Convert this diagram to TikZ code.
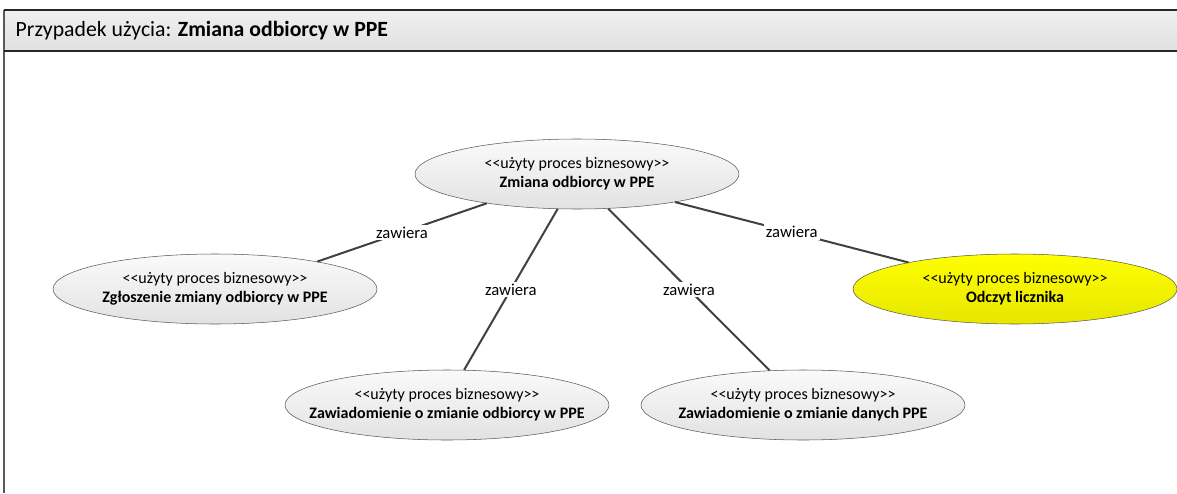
\documentclass[tikz,border=0pt]{standalone}
\usepackage{fontspec}
\setmainfont{Carlito}
\usetikzlibrary{shapes.geometric}

\definecolor{linia}{HTML}{404040}
\definecolor{obrys}{HTML}{595959}
\definecolor{jasny}{HTML}{FAFAFA}
\definecolor{ciemny}{HTML}{E2E2E2}
\definecolor{zolty}{HTML}{FFFF00}
\definecolor{zoltyc}{HTML}{E6E600}

\newcommand{\stereotyp}{<{}<użyty proces biznesowy>{}>}

\begin{document}
\begin{tikzpicture}[x=0.75pt, y=-0.75pt,
    proces/.style={draw=obrys, shape=ellipse, minimum width=243pt, minimum height=52.5pt, inner xsep=-20pt, inner ysep=0pt, align=center, top color=jasny, bottom color=ciemny, font=\fontsize{12}{14.5}\selectfont},
    wybrany/.style={proces, top color=zolty, bottom color=zoltyc},
    lbl/.style={fill=white, inner sep=1.5pt, font=\fontsize{12.5}{14}\selectfont},
    assoc/.style={draw=linia, line width=1.5pt}]

    \useasboundingbox (0,0) rectangle (1177,493);

    % Frame and title bar
    \shade[top color=gray!12, bottom color=gray!24] (4,10) rectangle (1177,51);
    \draw[line width=1.5pt, draw=gray!70!black] (4,10) -- (4,493);
    \draw[line width=1.5pt, draw=black!85] (4,10) -- (1177,10) (4,51) -- (1177,51);
    \node[anchor=west, font=\fontsize{16.3}{19}\selectfont] (naglowek) at (11,31) {Przypadek użycia: \textbf{Zmiana odbiorcy w PPE}};

    % Define the use cases (nodes)
    \node[proces] (zmiana) at (577,174) {\stereotyp\\\textbf{Zmiana odbiorcy w PPE}}; % main process
    \node[proces] (zgloszenie) at (215,289) {\stereotyp\\\textbf{Zgłoszenie zmiany odbiorcy w PPE}};
    \node[proces] (zawodbiorca) at (447,405) {\stereotyp\\\textbf{Zawiadomienie o zmianie odbiorcy w PPE}};
    \node[proces] (zawdane) at (803,405) {\stereotyp\\\textbf{Zawiadomienie o zmianie danych PPE}};
    \node[wybrany] (odczyt) at (1015,289) {\stereotyp\\\textbf{Odczyt licznika}}; % highlighted

    % Define the associations (edges)
    \path[assoc]
    (zmiana.198) edge node[lbl] {zawiera} (zgloszenie.15)
    (zmiana.241) edge node[lbl] {zawiera} (zawodbiorca.64)
    (zmiana.312) edge node[lbl] {zawiera} (zawdane.134)
    (zmiana.344) edge node[lbl] {zawiera} (odczyt.166);
\end{tikzpicture}
\end{document}
